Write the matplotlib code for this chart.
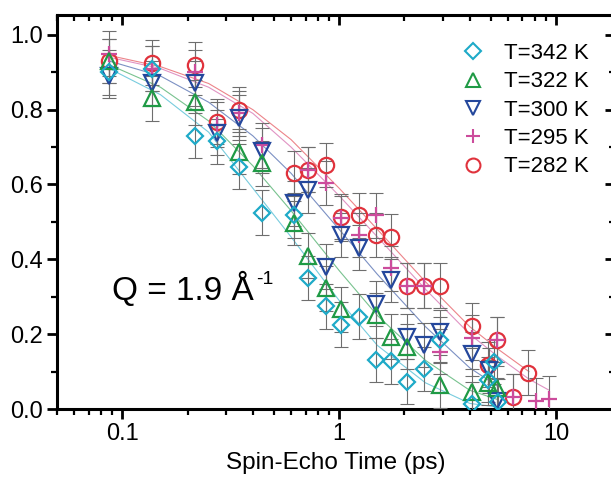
import numpy as np
import matplotlib.pyplot as plt
from matplotlib.lines import Line2D
from matplotlib.ticker import LogLocator, MultipleLocator, NullFormatter, FixedLocator, FixedFormatter

plt.rcParams['font.family'] = ['Liberation Sans', 'DejaVu Sans']

labels = ['T=342 K', 'T=322 K', 'T=300 K', 'T=295 K', 'T=282 K']
colors = ['#1eaac8', '#1f9a45', '#24479c', '#cc4c9c', '#e0323c']
markers = ['D', '^', 'v', '+', 'o']

# measured points (time in ps, normalised intermediate scattering function)
t342 = [0.087, 0.137, 0.217, 0.274, 0.346, 0.442, 0.621, 0.72, 0.871, 1.02, 1.24, 1.48, 1.74, 2.06, 2.46, 2.92, 4.1, 4.85, 5.2, 5.4]
v342 = [0.90, 0.91, 0.73, 0.715, 0.648, 0.524, 0.518, 0.35, 0.274, 0.225, 0.247, 0.131, 0.127, 0.073, 0.107, 0.185, 0.013, 0.078, 0.126, 0.02]

t322 = [0.087, 0.137, 0.217, 0.346, 0.442, 0.621, 0.72, 0.871, 1.02, 1.48, 1.74, 2.06, 2.92, 4.1, 4.85, 5.35]
v322 = [0.93, 0.83, 0.82, 0.688, 0.657, 0.497, 0.41, 0.323, 0.267, 0.25, 0.193, 0.167, 0.064, 0.046, 0.07, 0.056]

t300 = [0.087, 0.137, 0.217, 0.274, 0.346, 0.442, 0.621, 0.72, 0.871, 1.02, 1.24, 1.48, 1.74, 2.06, 2.46, 2.92, 4.1, 4.9, 5.35]
v300 = [0.89, 0.87, 0.87, 0.738, 0.778, 0.69, 0.55, 0.585, 0.38, 0.465, 0.431, 0.281, 0.345, 0.193, 0.171, 0.205, 0.147, 0.104, 0.022]

t295 = [0.087, 0.137, 0.217, 0.274, 0.346, 0.442, 0.72, 0.871, 1.02, 1.24, 1.48, 1.74, 2.06, 2.46, 2.92, 4.1, 5.35, 6.34, 8.1, 9.3]
v295 = [0.95, 0.91, 0.90, 0.76, 0.79, 0.705, 0.64, 0.604, 0.51, 0.465, 0.518, 0.376, 0.33, 0.33, 0.153, 0.19, 0.185, 0.033, 0.022, 0.027]

t282 = [0.087, 0.137, 0.217, 0.274, 0.346, 0.621, 0.72, 0.871, 1.02, 1.24, 1.48, 1.74, 2.06, 2.46, 2.92, 4.1, 4.85, 5.35, 6.34, 7.43]
v282 = [0.93, 0.925, 0.92, 0.768, 0.80, 0.63, 0.64, 0.652, 0.514, 0.518, 0.465, 0.46, 0.33, 0.33, 0.33, 0.222, 0.118, 0.185, 0.033, 0.097]

errs = [0.06, 0.06, 0.06, 0.06, 0.06]

# fitted curves
fit_t = [0.087, 0.15, 0.25, 0.4, 0.6, 1.0, 1.5, 2.5, 4.0, 5.4, 7.5, 9.3]
f342 = [0.91, 0.84, 0.74, 0.59, 0.46, 0.29, 0.17, 0.07, 0.015, 0.005]
f322 = [0.92, 0.86, 0.77, 0.65, 0.53, 0.37, 0.25, 0.13, 0.05, 0.025]
f300 = [0.93, 0.89, 0.82, 0.73, 0.63, 0.48, 0.36, 0.22, 0.11, 0.06]
f295 = [0.94, 0.91, 0.86, 0.79, 0.70, 0.57, 0.46, 0.32, 0.20, 0.14, 0.08, 0.05]
f282 = [0.945, 0.915, 0.87, 0.80, 0.72, 0.59, 0.48, 0.34, 0.22, 0.16, 0.10]

ts = [t342, t322, t300, t295, t282]
vs = [v342, v322, v300, v295, v282]
fits = [f342, f322, f300, f295, f282]

fig = plt.figure(figsize=(6.11, 4.86), dpi=100)
# right spine sits just past the picture edge, as in the original crop
ax = fig.add_axes([57/611, 1-409/486, (615-57)/611, (409-15)/486])

for t, v, f, c, m, e in zip(ts, vs, fits, colors, markers, errs):
    ax.plot(fit_t[:len(f)], f, color=c, lw=0.8, alpha=0.6, zorder=2)
    ax.errorbar(t, v, yerr=e, fmt='none', ecolor='#6e6e6e', elinewidth=0.8,
                capsize=5, capthick=0.8, zorder=3)
for t, v, c, m in zip(ts[::-1], vs[::-1], colors[::-1], markers[::-1]):
    ms = 8 if m == 'D' else 11
    ax.plot(t, v, ls='none', marker=m, ms=ms, mfc='none', mec=c, mew=1.6, zorder=4)

ax.set_xscale('log')
ax.set_xlim(0.05, 18.7)
ax.set_ylim(0, 1.053)

ax.xaxis.set_major_locator(FixedLocator([0.1, 1, 10]))
ax.xaxis.set_major_formatter(FixedFormatter(['0.1', '1', '10']))
ax.xaxis.set_minor_locator(LogLocator(base=10, subs=np.arange(2, 10)))
ax.xaxis.set_minor_formatter(NullFormatter())
ax.yaxis.set_major_locator(MultipleLocator(0.2))
ax.yaxis.set_minor_locator(MultipleLocator(0.1))
ax.yaxis.set_major_formatter(plt.FuncFormatter(lambda v, p: '%.1f' % v))

for s in ax.spines.values():
    s.set_linewidth(2.2)
ax.spines['right'].set_visible(False)
ax.tick_params(which='major', length=7, width=2, labelsize=17, pad=3)
ax.tick_params(which='minor', length=4, width=1.6)
ax.tick_params(axis='x', which='both', top=True, direction='out')
ax.tick_params(axis='y', which='both', right=True, direction='out')
for tk in ax.xaxis.get_major_ticks() + ax.xaxis.get_minor_ticks():
    tk.tick2line.set_marker(3)
for tk in ax.yaxis.get_major_ticks() + ax.yaxis.get_minor_ticks():
    tk.tick2line.set_marker(0)

ax.set_xlabel('Spin-Echo Time (ps)', fontsize=17.5, labelpad=5)
qtxt = ax.text(0.09, 0.32, 'Q = 1.9 Å', fontsize=24, ha='left', va='center')
fig.canvas.draw()
bb = qtxt.get_window_extent()
fig.text((bb.x1 + 2) / fig.dpi / 6.11, (bb.y1 - 8) / fig.dpi / 4.86, '-1', fontsize=14, ha='left', va='center')

handles = [Line2D([], [], ls='none', marker=m, ms=(8 if m == 'D' else 10), mfc='none', mec=c, mew=1.5)
           for m, c in zip(markers, colors)]
ax.legend(handles, labels, loc='upper right', bbox_to_anchor=(600/611, 1-32/486),
          bbox_transform=fig.transFigure, frameon=False, fontsize=16,
          handletextpad=0.8, labelspacing=0.33, handlelength=1.2, borderpad=0)

fig.savefig('out.png', dpi=100)
